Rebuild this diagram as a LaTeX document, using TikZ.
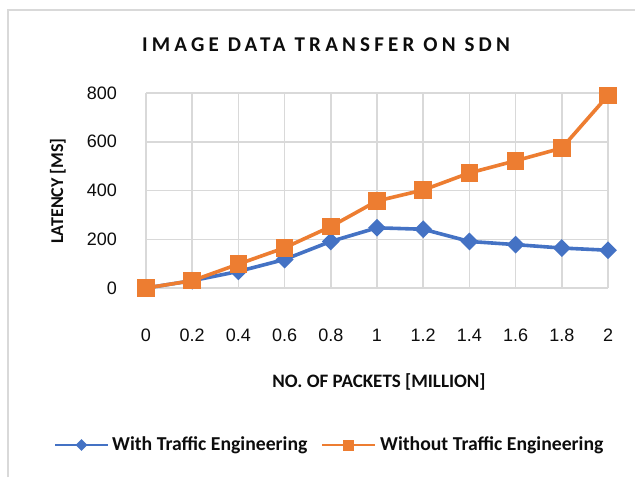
\documentclass[tikz,border=0pt]{standalone}
\usepackage{fontspec}
\setmainfont{Liberation Sans}
\newfontfamily\calb{Carlito Bold}
\newfontfamily\calspaced{Carlito Bold}[LetterSpace=20]
\usetikzlibrary{shapes.geometric}
\definecolor{gridc}{HTML}{D9D9D9}
\definecolor{ser1}{HTML}{4472C4}
\definecolor{ser2}{HTML}{ED7D31}
\definecolor{txt}{HTML}{0D0D0D}
\tikzset{
  gridline/.style={draw=gridc, line width=1.5pt},
  tick/.style={font=\fontsize{18}{21}\selectfont, text=txt, inner sep=0pt},
  axtitle/.style={font=\fontsize{19}{22}\selectfont\calb, text=txt, inner sep=0pt},
  s1line/.style={draw=ser1, line width=3.6pt, line join=round},
  s2line/.style={draw=ser2, line width=3.6pt, line join=round},
  diam/.style={diamond, fill=ser1, minimum size=18pt, inner sep=0pt},
  sq/.style={rectangle, fill=ser2, minimum size=17.5pt, inner sep=0pt},
  legtext/.style={font=\fontsize{19.7}{23}\selectfont\calb, text=txt, inner sep=0pt, anchor=west},
}
\begin{document}
\begin{tikzpicture}[x=1pt,y=-1pt]
\useasboundingbox (0,0) rectangle (635,477);
\fill[white] (0,0) rectangle (635,477);
\draw[draw=gridc, line width=1.6pt] (8,477) -- (8,10) -- (636,10);
% title
\node[inner sep=0pt, text=txt, font=\fontsize{21}{24}\selectfont\calspaced] (title) at (326,45) {IMAGE DATA TRANSFER ON SDN};
% grid
\foreach \i in {0,...,10} {\draw[gridline] ({146+46.2*\i},93) -- ({146+46.2*\i},288);}
\foreach \j in {1,...,4} {\draw[gridline] (146,{288-48.75*\j}) -- (608,{288-48.75*\j});}
\draw[gridline] (146,288) -- (608,288);
% tick labels
\foreach \v [count=\k from 0] in {0,0.2,0.4,0.6,0.8,1,1.2,1.4,1.6,1.8,2} {
  \node[tick] (xt\k) at ({146+46.2*\k},335) {\v};
}
\foreach \v [count=\k from 0] in {0,200,400,600,800} {
  \node[tick, anchor=east] (yt\k) at (117,{288-48.75*\k}) {\v};
}
% axis titles
\node[axtitle, font=\fontsize{18}{21}\selectfont\calb, rotate=90] (ytitle) at (58,191) {LATENCY [MS]};
\node[axtitle] (xtitle) at (379,382) {NO. OF PACKETS [MILLION]};
% data
\begin{scope}[shift={(146,288)}, x=231pt, y=0.24375pt]
  \foreach \xx/\yy [count=\k from 0] in {0/0,0.2/30,0.4/68,0.6/117,0.8/191,1/247,1.2/241,1.4/191,1.6/178,1.8/164,2/155} {
    \coordinate (b\k) at (\xx,\yy);
  }
  \foreach \xx/\yy [count=\k from 0] in {0/0,0.2/30,0.4/98,0.6/165,0.8/252,1/357,1.2/402,1.4/472,1.6/522,1.8/574,2/790} {
    \coordinate (o\k) at (\xx,\yy);
  }
\end{scope}
\draw[s1line] (b0) -- (b1) -- (b2) -- (b3) -- (b4) -- (b5) -- (b6) -- (b7) -- (b8) -- (b9) -- (b10);
\foreach \k in {0,...,10} {\node[diam] (bm\k) at (b\k) {};}
\draw[s2line] (o0) -- (o1) -- (o2) -- (o3) -- (o4) -- (o5) -- (o6) -- (o7) -- (o8) -- (o9) -- (o10);
\foreach \k in {0,...,10} {\node[sq] (om\k) at (o\k) {};}
% legend
\coordinate (l1a) at (55,445);
\coordinate (l1b) at (108,445);
\draw[draw=ser1, line width=2.6pt] (l1a) -- (l1b);
\node[diam, minimum size=12pt] (l1m) at (81.5,445) {};
\node[legtext] (l1t) at (112,445) {With Traffic Engineering};
\coordinate (l2a) at (322,445);
\coordinate (l2b) at (375,445);
\draw[draw=ser2, line width=2.6pt] (l2a) -- (l2b);
\node[sq, minimum size=11pt] (l2m) at (348.5,445) {};
\node[legtext] (l2t) at (380,445) {Without Traffic Engineering};
\end{tikzpicture}
\end{document}
